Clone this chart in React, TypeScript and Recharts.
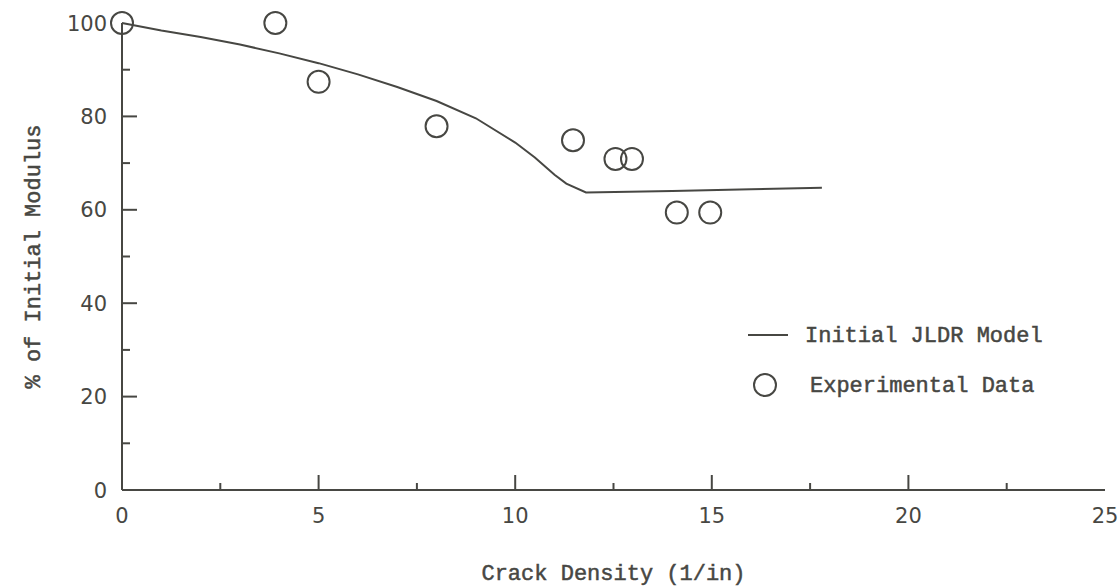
import {
  ComposedChart,
  Line,
  Scatter,
  XAxis,
  YAxis,
  Legend,
  Label,
} from "recharts";

// Initial JLDR model prediction: % of initial modulus vs crack density (1/in)
const modelDensity = [0, 1, 2, 3, 4, 5, 6, 7, 8, 9, 10, 10.5, 11, 11.3, 11.8, 14, 16, 17.8];
const modelModulus = [100, 98.4, 97, 95.4, 93.5, 91.4, 89, 86.3, 83.3, 79.6, 74.4, 71.2, 67.5, 65.6, 63.7, 64, 64.4, 64.7];

// Experimental measurements
const expDensity = [0, 3.9, 5.0, 8.0, 11.47, 12.55, 12.97, 14.11, 14.96];
const expModulus = [100, 100, 87.4, 77.9, 74.9, 70.9, 70.9, 59.4, 59.4];

const xTicks = [0, 2.5, 5, 7.5, 10, 12.5, 15, 17.5, 20, 22.5, 25];
const yTicks = [0, 10, 20, 30, 40, 50, 60, 70, 80, 90, 100];

const model = modelDensity.map((x, i) => ({ x, y: modelModulus[i] }));
const experiment = expDensity.map((x, i) => ({ x, y: expModulus[i] }));

const INK = "#474743";
const MONO = "'Liberation Mono', monospace";
const SANS = "'DejaVu Sans', sans-serif";

const monoText = {
  fill: INK,
  stroke: INK,
  strokeWidth: 0.5,
  fontFamily: MONO,
  fontSize: 22,
};

const XTick = (props: any) => {
  const { x, y, payload } = props;
  const major = payload.value % 5 === 0;
  const axisY = y - 25;
  return (
    <g>
      {payload.value > 0 && payload.value < 25 && (
        <line x1={x} x2={x} y1={axisY} y2={axisY - (major ? 15 : 7)} stroke={INK} strokeWidth={2} />
      )}
      {major && (
        <text x={x} y={y} dy="0.36em" textAnchor="middle" fill={INK} fontFamily={SANS} fontSize={21}>
          {payload.value}
        </text>
      )}
    </g>
  );
};

const YTick = (props: any) => {
  const { x, y, payload } = props;
  const major = payload.value % 20 === 0;
  const axisX = x + 15;
  return (
    <g>
      {payload.value > 0 && payload.value < 100 && (
        <line x1={axisX} x2={axisX + (major ? 15 : 8)} y1={y} y2={y} stroke={INK} strokeWidth={2} />
      )}
      {major && (
        <text x={x} y={y} dy="0.36em" textAnchor="end" fill={INK} fontFamily={SANS} fontSize={21}>
          {payload.value}
        </text>
      )}
    </g>
  );
};

const Ring = (props: any) => (
  <circle cx={props.cx} cy={props.cy} r={11} fill="none" stroke={INK} strokeWidth={2} />
);

const LegendBox = () => (
  <svg width={340} height={100} style={{ overflow: "visible" }}>
    <line x1={8} x2={48} y1={20} y2={20} stroke={INK} strokeWidth={2} />
    <text x={65} y={20} dy="0.32em" {...monoText}>
      Initial JLDR Model
    </text>
    <circle cx={25} cy={70} r={11} fill="none" stroke={INK} strokeWidth={2} />
    <text x={70} y={70} dy="0.32em" {...monoText}>
      Experimental Data
    </text>
  </svg>
);

export default function App() {
  return (
    <div style={{ position: "absolute", left: 0, top: 0, background: "#fff" }}>
      <ComposedChart width={1120} height={587} margin={{ top: 23, right: 15, bottom: 37, left: 12 }}>
        <XAxis
          xAxisId="b"
          dataKey="x"
          type="number"
          domain={[0, 25]}
          ticks={xTicks}
          interval={0}
          height={60}
          tickSize={0}
          tickMargin={25}
          tickLine={false}
          axisLine={{ stroke: INK, strokeWidth: 2 }}
          tick={<XTick />}
        >
          <Label
            content={({ viewBox }: any) => (
              <text
                x={viewBox.x + viewBox.width / 2}
                y={573}
                dy="0.32em"
                textAnchor="middle"
                {...monoText}
              >
                Crack Density (1/in)
              </text>
            )}
          />
        </XAxis>
        <XAxis
          xAxisId="t"
          orientation="top"
          dataKey="x"
          type="number"
          domain={[0, 25]}
          height={0}
          tick={false}
          tickLine={false}
          axisLine={{ stroke: INK, strokeWidth: 2 }}
        />
        <YAxis
          yAxisId="l"
          type="number"
          domain={[0, 100]}
          ticks={yTicks}
          interval={0}
          width={110}
          tickSize={0}
          tickMargin={15}
          tickLine={false}
          axisLine={{ stroke: INK, strokeWidth: 2 }}
          tick={<YTick />}
        >
          <Label
            content={({ viewBox }: any) => {
              const cx = 33;
              const cy = viewBox.y + viewBox.height / 2;
              return (
                <text
                  x={cx}
                  y={cy}
                  dy="0.32em"
                  textAnchor="middle"
                  transform={`rotate(-90 ${cx} ${cy})`}
                  {...monoText}
                >
                  % of Initial Modulus
                </text>
              );
            }}
          />
        </YAxis>
        <YAxis
          yAxisId="r"
          orientation="right"
          type="number"
          domain={[0, 100]}
          width={0}
          tick={false}
          tickLine={false}
          axisLine={{ stroke: INK, strokeWidth: 2 }}
        />
        <Line
          xAxisId="b"
          yAxisId="l"
          data={model}
          dataKey="y"
          type="linear"
          stroke={INK}
          strokeWidth={2}
          dot={false}
          isAnimationActive={false}
        />
        <Scatter
          xAxisId="b"
          yAxisId="l"
          data={experiment}
          dataKey="y"
          shape={<Ring />}
          isAnimationActive={false}
        />
        <Legend
          content={<LegendBox />}
          wrapperStyle={{ position: "absolute", left: 740, top: 315, width: 0, height: 0, overflow: "visible" }}
        />
      </ComposedChart>
    </div>
  );
}
